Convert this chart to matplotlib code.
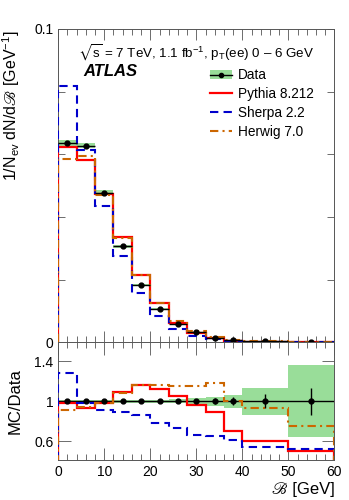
import numpy as np
import matplotlib
matplotlib.use("Agg")
import matplotlib.pyplot as plt
from matplotlib.ticker import MultipleLocator, FixedLocator, NullFormatter
from matplotlib.lines import Line2D
from matplotlib.patches import Patch

plt.rcParams['font.family'] = ['Liberation Sans', 'DejaVu Sans']
plt.rcParams['mathtext.fontset'] = 'custom'
plt.rcParams['mathtext.rm'] = 'Liberation Sans'
plt.rcParams['mathtext.it'] = 'Liberation Sans:italic'
plt.rcParams['mathtext.fallback'] = 'stix'

# ---- data ----
bin_edges = [0, 4, 8, 12, 16, 20, 24, 28, 32, 36, 40, 50, 60]
data = [0.0637, 0.0628, 0.0478, 0.0306, 0.0183, 0.0107, 0.0059, 0.0032, 0.0015, 0.0006, 0.0003, 0.0001]
pythia = [0.0623, 0.0583, 0.0473, 0.0337, 0.0215, 0.0124, 0.0063, 0.0031, 0.0013, 0.0004, 0.00018, 0.00005]
sherpa = [0.0817, 0.0614, 0.0435, 0.0276, 0.0156, 0.0083, 0.0041, 0.0019, 0.0009, 0.0004, 0.00016, 0.00005]
herwig = [0.0585, 0.0596, 0.0471, 0.0334, 0.0215, 0.0126, 0.0068, 0.0037, 0.0018, 0.0006, 0.0003, 0.0001]

ratio_pythia = [0.979, 0.929, 0.985, 1.095, 1.163, 1.118, 1.050, 0.960, 0.896, 0.704, 0.604, 0.507]
ratio_sherpa = [1.280, 0.980, 0.912, 0.888, 0.862, 0.786, 0.734, 0.667, 0.655, 0.614, 0.542, 0.522]
ratio_herwig = [0.912, 0.945, 0.982, 1.080, 1.166, 1.158, 1.148, 1.150, 1.185, 1.000, 0.930, 0.756]

band_rel = [0.015, 0.015, 0.015, 0.015, 0.015, 0.015, 0.02, 0.03, 0.045, 0.065, 0.135, 0.357]
stat_rel = [0.005, 0.005, 0.005, 0.006, 0.008, 0.01, 0.012, 0.02, 0.03, 0.04, 0.07, 0.135]

edges = np.array(bin_edges, dtype=float)
centers = 0.5 * (edges[:-1] + edges[1:])
halfw = 0.5 * np.diff(edges)
data_a = np.array(data)

RED = '#ff0000'
BLUE = '#0000cc'
BROWN = '#cc6600'
GREEN = '#99dd99'
AXC = '#555555'
SCRIPT_B = '\u212C'
LBL_FAM = ['Liberation Sans', 'STIXGeneral', 'DejaVu Sans']

fig = plt.figure(figsize=(3.49, 5.0), dpi=100)
ax = fig.add_axes([0.167, 0.3154, 0.791, 0.6266])
rx = fig.add_axes([0.167, 0.080, 0.791, 0.2354])

# ---- main panel ----
band = data_a * np.array(band_rel)
ax.bar(edges[:-1], 2 * band, bottom=data_a - band, width=np.diff(edges), align='edge',
       color=GREEN, linewidth=0, zorder=1)
ax.stairs(pythia, edges, color=RED, lw=1.6, zorder=3)
ax.stairs(sherpa, edges, color=BLUE, lw=1.5, ls=(0, (4, 2.5)), zorder=3)
ax.stairs(herwig, edges, color=BROWN, lw=1.5, ls=(0, (4, 2, 1, 2)), zorder=3)
ax.errorbar(centers, data_a, xerr=halfw, yerr=data_a * np.array(stat_rel), fmt='o', color='black',
            ms=3.5, lw=1.0, capsize=0, zorder=5)

ax.set_xlim(0, 60)
ax.set_ylim(0, 0.1)
ax.yaxis.set_major_locator(FixedLocator([0, 0.02, 0.04, 0.06, 0.08, 0.1]))
ax.set_yticklabels(['0', '', '', '', '', '0.1'])
ax.xaxis.set_major_locator(MultipleLocator(10))
ax.xaxis.set_minor_locator(MultipleLocator(2))
ax.xaxis.set_major_formatter(NullFormatter())
ax.tick_params(axis='both', which='both', direction='in', top=True, right=True, labelsize=10, width=0.6, color=AXC)
ax.tick_params(axis='x', which='major', length=8)
ax.tick_params(axis='x', which='minor', length=4)
ax.tick_params(axis='y', which='major', length=5)
ax.set_ylabel('1/N$_{\\mathrm{ev}}$ dN/d$\\mathrm{' + SCRIPT_B + '}$ [GeV$^{-1}$]', fontsize=11.5, loc='top')
ax.yaxis.set_label_coords(-0.13, 0.995)

ax.text(0.072, 0.925, r'$\sqrt{\mathrm{s}}$ = 7 TeV, 1.1 fb$^{-1}$, p$_{\mathrm{T}}$(ee) 0 – 6 GeV',
        transform=ax.transAxes, fontsize=9.6, va='center')
ax.text(0.09, 0.865, 'ATLAS', transform=ax.transAxes, fontsize=12, fontweight='bold',
        fontstyle='italic', va='center')

handles = [(Patch(facecolor=GREEN, edgecolor='none'),
            Line2D([], [], color='black', marker='o', ms=3, lw=1.0)),
           Line2D([], [], color=RED, lw=1.6),
           Line2D([], [], color=BLUE, lw=1.5, ls=(0, (4, 2.5))),
           Line2D([], [], color=BROWN, lw=1.5, ls=(0, (4, 2, 1, 2)))]
labels = ['Data', 'Pythia 8.212', 'Sherpa 2.2', 'Herwig 7.0']
ax.legend(handles, labels, loc='upper left', bbox_to_anchor=(0.515, 0.905), frameon=False,
          fontsize=9.8, handlelength=1.6, handletextpad=0.45, labelspacing=0.36, borderpad=0.2)

for s in ax.spines.values():
    s.set_color(AXC)
    s.set_linewidth(0.7)

# ---- ratio panel ----
br = np.array(band_rel)
rx.bar(edges[:-1], 2 * br, bottom=1 - br, width=np.diff(edges), align='edge',
       color=GREEN, linewidth=0, zorder=1)
rx.axhline(1.0, color='black', lw=1.0, zorder=2)
rx.stairs(ratio_pythia, edges, color=RED, lw=1.6, zorder=3)
rx.stairs(ratio_sherpa, edges, color=BLUE, lw=1.5, ls=(0, (4, 2.5)), zorder=3)
rx.stairs(ratio_herwig, edges, color=BROWN, lw=1.5, ls=(0, (4, 2, 1, 2)), zorder=3)
rx.errorbar(centers, np.ones_like(centers), yerr=stat_rel, fmt='o', color='black',
            ms=3.5, lw=1.0, capsize=0, zorder=5)

rx.set_xlim(0, 60)
rx.set_ylim(0.413, 1.587)
rx.yaxis.set_major_locator(FixedLocator([0.6, 1.0, 1.4]))
rx.set_yticklabels(['0.6', '1', '1.4'])
rx.xaxis.set_major_locator(MultipleLocator(10))
rx.xaxis.set_minor_locator(MultipleLocator(2))
rx.tick_params(axis='both', which='both', direction='in', top=True, right=True, labelsize=10, width=0.6, color=AXC)
rx.tick_params(axis='x', which='major', length=9)
rx.tick_params(axis='x', which='minor', length=4.5)
rx.tick_params(axis='y', which='major', length=9)
rx.set_ylabel('MC/Data', fontsize=12)
rx.yaxis.set_label_coords(-0.13, 0.5)
rx.set_xlabel(SCRIPT_B + ' [GeV]', fontsize=12, loc='right', family=LBL_FAM)
rx.xaxis.set_label_coords(1.0, -0.185)
for s in rx.spines.values():
    s.set_color(AXC)
    s.set_linewidth(0.7)

fig.savefig('out.png', dpi=100)
